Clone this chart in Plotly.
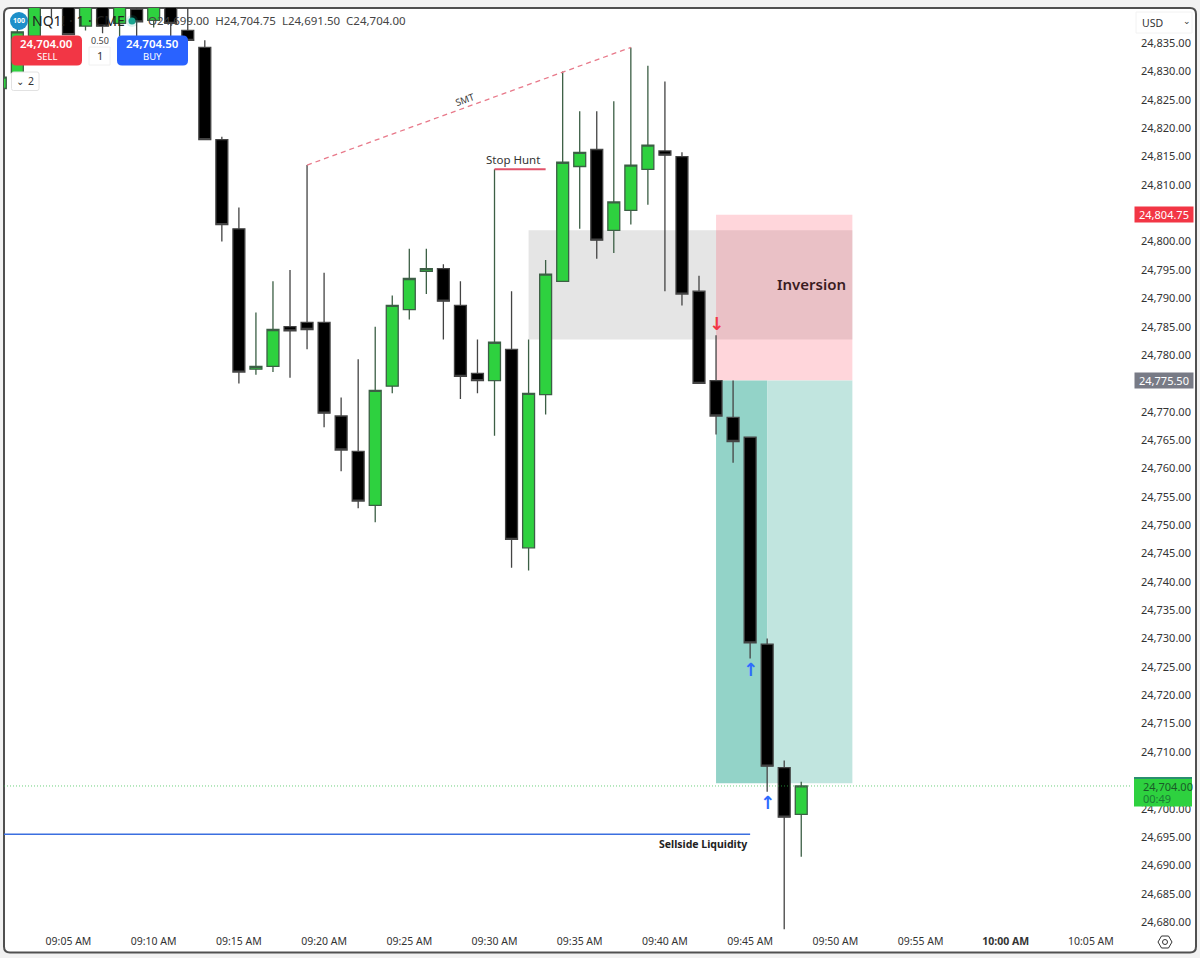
import plotly.graph_objects as go

DAY = "2025-07-21 "
times = ["09:01","09:02","09:03","09:04","09:05","09:06","09:07","09:08","09:09","09:10","09:11","09:12",
         "09:13","09:14","09:15","09:16","09:17","09:18","09:19","09:20","09:21","09:22","09:23","09:24",
         "09:25","09:26","09:27","09:28","09:29","09:30","09:31","09:32","09:33","09:34","09:35","09:36",
         "09:37","09:38","09:39","09:40","09:41","09:42","09:43","09:44","09:45","09:46","09:47","09:48"]
opens = [24827,24829.75,24836.25,24846,24850,24838,24848,24838.5,24841,24839,24846,24837.25,
         24834.25,24818,24802.25,24777.5,24778,24785,24785.75,24785.75,24769.25,24763,24753.5,24774.5,
         24788,24794.75,24795.25,24788.75,24776.75,24775.5,24781,24746,24773,24793,24813.25,24816.25,
         24802,24805.5,24812.75,24816,24815,24791.25,24775.5,24769,24765.5,24729,24707.25,24699]
highs = [24830,24839,24848,24848,24852,24848,24849,24847,24843,24848,24847,24842,
         24835.5,24818.5,24806,24787.5,24793,24795,24813.5,24794.5,24772.5,24779.25,24785,24790.5,
         24798.75,24798.75,24796,24793,24782.75,24812.75,24791.25,24782.75,24796.75,24830,24823,24823,
         24824.75,24834.25,24831,24828.25,24815.75,24794,24783.5,24775.5,24765.5,24730,24708.5,24704.75]
lows = [24826,24829.75,24836.25,24839.5,24836.5,24837.25,24836.75,24836.25,24836.25,24837.75,24836.25,24835.5,
        24818,24800,24775,24776.5,24777,24776,24781,24767.25,24759.5,24753,24750.5,24773.25,
        24786.25,24790.75,24782.75,24772.25,24773.25,24765.75,24742.5,24742,24769.5,24793,24802.25,24797,
        24798,24803,24806.5,24791.25,24788.75,24775,24766,24761,24726.5,24703,24678.75,24691.5]
closes = [24829,24837,24845,24844,24836.5,24846,24838,24846,24838.75,24846,24838.5,24835.5,
          24818,24803,24777,24778,24784.5,24784.25,24784.5,24769.75,24763.25,24754.25,24773.75,24788.75,
          24793.5,24795.25,24789.5,24776.25,24775.5,24782.25,24747.5,24773.25,24794.25,24814,24815.75,24800.25,
          24807,24813.5,24817,24815.25,24790.75,24775,24769.25,24764.75,24729.25,24707.5,24698.5,24704]

price_ticks = [24680,24685,24690,24695,24700,24710,24715,24720,24725,24730,24735,24740,24745,24750,24755,
               24760,24765,24770,24775,24780,24785,24790,24795,24800,24810,24815,24820,24825,24830,24835]
time_ticks = ["09:05","09:10","09:15","09:20","09:25","09:30","09:35","09:40","09:45","09:50","09:55","10:00","10:05"]
time_labels = ["09:05 AM","09:10 AM","09:15 AM","09:20 AM","09:25 AM","09:30 AM","09:35 AM","09:40 AM","09:45 AM",
               "09:50 AM","09:55 AM","<b>10:00 AM</b>","10:05 AM"]

last_price = 24704
sell_price = "24,704.00"
buy_price = "24,704.50"
red_label = 24804.75
grey_label = 24775.5
gray_zone = (24802, 24782.75)
pink_zone = (24804.75, 24775.5)
teal_zone = (24775.5, 24704.5)
liquidity = 24695.5

PLOT_L, PLOT_T, PLOT_R, PLOT_B = 4, 8, 1131, 930
W, H = 1200, 958
def X(px): return (px - PLOT_L) / (PLOT_R - PLOT_L)
def Y(py): return 1 - (py - PLOT_T) / (PLOT_B - PLOT_T)
def T(hm, sec="00"): return DAY + hm + ":" + sec

fig = go.Figure(go.Candlestick(
    x=[T(t) for t in times], open=opens, high=highs, low=lows, close=closes,
    increasing=dict(fillcolor="#2ed13f", line=dict(color="#3c5f45", width=1.3)),
    decreasing=dict(fillcolor="#000000", line=dict(color="#444444", width=1.3)),
    whiskerwidth=0, hoverinfo="skip", showlegend=False))

shapes = []
def paper_rect(x0, y0, x1, y1, fill, line=None, layer="above", lw=1, r=0):
    if r:
        path = (f"M {X(x0+r)} {Y(y0)} L {X(x1-r)} {Y(y0)} Q {X(x1)} {Y(y0)} {X(x1)} {Y(y0+r)} "
                f"L {X(x1)} {Y(y1-r)} Q {X(x1)} {Y(y1)} {X(x1-r)} {Y(y1)} "
                f"L {X(x0+r)} {Y(y1)} Q {X(x0)} {Y(y1)} {X(x0)} {Y(y1-r)} "
                f"L {X(x0)} {Y(y0+r)} Q {X(x0)} {Y(y0)} {X(x0+r)} {Y(y0)} Z")
        shapes.append(dict(type="path", path=path, xref="paper", yref="paper", fillcolor=fill, layer=layer,
                           line=dict(color=line or "rgba(0,0,0,0)", width=lw)))
    else:
        shapes.append(dict(type="rect", x0=X(x0), x1=X(x1), y0=Y(y0), y1=Y(y1), xref="paper", yref="paper",
                           fillcolor=fill, layer=layer, line=dict(color=line or "rgba(0,0,0,0)", width=lw)))

def data_rect(t0, t1, p0, p1, fill):
    shapes.append(dict(type="rect", x0=T(t0), x1=T(t1), y0=p0, y1=p1, xref="x", yref="y", fillcolor=fill,
                       layer="below", line=dict(width=0)))

def data_line(t0, p0, t1, p1, color, width, dash="solid"):
    shapes.append(dict(type="line", x0=t0, x1=t1, y0=p0, y1=p1, xref="x", yref="y",
                       line=dict(color=color, width=width, dash=dash), layer="above"))

# page frame
paper_rect(4, 8, 1196, 952.5, "#ffffff", "#505050", "below", 2, 6)

# zones
data_rect("09:32", "09:51", gray_zone[0], gray_zone[1], "#e5e5e5")
data_rect("09:43", "09:51", pink_zone[0], pink_zone[1], "rgba(255,70,90,0.22)")
data_rect("09:43", "09:46", teal_zone[0], teal_zone[1], "#93d3c8")
data_rect("09:46", "09:51", teal_zone[0], teal_zone[1], "#c1e5df")

# drawn lines
data_line(T("09:19"), highs[18], T("09:38"), highs[37], "#e8798a", 1.3, "5px,4px")
data_line(T("09:30"), highs[29], T("09:33"), highs[29], "#e0526a", 2)
data_line(T("09:01", "13"), liquidity, T("09:45"), liquidity, "#3b6fe0", 1.5)
data_line(T("09:01", "13"), last_price, T("10:07", "30"), last_price, "rgba(46,190,70,0.7)", 1, "1px,2px")

# order widgets
paper_rect(11.5, 35.5, 82, 65.5, "#f23645", r=5)
paper_rect(117, 35.5, 188, 65.5, "#2962ff", r=5)
paper_rect(89, 47, 110, 65, "#ffffff", "#f0f0f0")
paper_rect(11.5, 72, 39, 90.5, "#ffffff", "#e2e2e2", r=2)
paper_rect(1136, 12, 1192, 33, "#ffffff", "#f2f2f2")
# logo + status dot
shapes.append(dict(type="circle", x0=X(10), x1=X(28), y0=Y(12), y1=Y(30), xref="paper", yref="paper",
                   fillcolor="#1d8fc9", line=dict(width=0)))
shapes.append(dict(type="circle", x0=X(126), x1=X(138), y0=Y(15), y1=Y(27), xref="paper", yref="paper",
                   fillcolor="rgba(30,170,150,0.15)", line=dict(width=0)))
shapes.append(dict(type="circle", x0=X(128.5), x1=X(135.5), y0=Y(17.5), y1=Y(24.5), xref="paper", yref="paper",
                   fillcolor="#1aa38f", line=dict(width=0)))
# settings icon
hx, hy = 1165, 942
hexagon = [(-7,0),(-3.5,-6),(3.5,-6),(7,0),(3.5,6),(-3.5,6)]
path = "M " + " L ".join(f"{X(hx+a)} {Y(hy+b)}" for a, b in hexagon) + " Z"
shapes.append(dict(type="path", path=path, xref="paper", yref="paper", line=dict(color="#333333", width=1)))
shapes.append(dict(type="circle", x0=X(hx-2.5), x1=X(hx+2.5), y0=Y(hy-2.5), y1=Y(hy+2.5), xref="paper", yref="paper",
                   line=dict(color="#333333", width=1)))
# last-price flag
paper_rect(1134, 777, 1192, 806.5, "#2ed13f")
paper_rect(1134, 777, 1192, 779, "#2a8f6f")

FONT = "Noto Sans"
ann = []
def label(px, py, text, size=11, color="#333333", anchor="center", weight=None, family=FONT, angle=0):
    ann.append(dict(x=X(px), y=Y(py), xref="paper", yref="paper", text=text, showarrow=False, xanchor=anchor,
                    yanchor="middle", textangle=angle,
                    font=dict(size=size, color=color, family=family, weight=weight or 400)))

label(18.5, 21, "100", 7, "#ffffff", weight=700)
label(30, 21, "NQ1! · 1 · CME", 14, "#222222", "left")
label(146, 21, "O24,699.00&nbsp; H24,704.75&nbsp; L24,691.50&nbsp; C24,704.00", 11.5, "#444444", "left")
label(46.5, 44, sell_price, 11.5, "#ffffff", weight=600)
label(46.5, 56.5, "SELL", 9.5, "#ffffff")
label(152.5, 44, buy_price, 11.5, "#ffffff", weight=600)
label(152.5, 56.5, "BUY", 9.5, "#ffffff")
label(99.5, 40, "0.50", 9, "#444444")
label(99.5, 56, "1", 11, "#333333")
label(20, 81, "⌄", 10, "#333333")
label(31, 81, "2", 10.5, "#333333")
label(1140, 22.5, "USD", 10.5, "#333333", "left")
label(1186.5, 21, "⌄", 9, "#333333")
label(465, 99, "SMT", 9.5, "#333333", angle=-20)
label(513, 160, "Stop Hunt", 11.5, "#333333")
label(702.5, 844, "Sellside Liquidity", 10.5, "#222222", weight=700)
label(811.5, 284, "Inversion", 15, "#3a1c22", weight=600)
label(1141, 786, "24,704.00", 11, "#1a5a28", "left")
label(1141, 798, "00:49", 11, "#1a7a35", "left")

# arrows and price flags tied to the price scale
def arrow(t, price, ch, color):
    ann.append(dict(x=T(t), y=price, xref="x", yref="y", text=ch, showarrow=False,
                    font=dict(size=18, color=color, family="DejaVu Sans", weight=700)))
arrow("09:43", 24785.5, "↓", "#f23645")
arrow("09:45", 24724.5, "↑", "#2f6bff")
arrow("09:46", 24701, "↑", "#2f6bff")

def flag(price, text, bg, color, h):
    ann.append(dict(x=X(1134), y=price, xref="paper", yref="y", text=text, showarrow=False, xanchor="left",
                    yanchor="middle", bgcolor=bg, width=58, height=h, borderpad=0, align="center",
                    font=dict(size=11, color=color, family=FONT)))
flag(red_label, "24,804.75", "#f23645", "#ffffff", 15)
flag(grey_label, "24,775.50", "#787b86", "#ffffff", 15)

fig.update_layout(
    width=W, height=H, margin=dict(l=PLOT_L, r=W - PLOT_R, t=PLOT_T, b=H - PLOT_B, autoexpand=False),
    paper_bgcolor="#f2f2f2", plot_bgcolor="rgba(0,0,0,0)", shapes=shapes, annotations=ann,
    showlegend=False, boxgap=0.3, boxgroupgap=0, hovermode=False,
    font=dict(family=FONT, size=11, color="#333333"),
    xaxis=dict(type="date", range=[T("09:01", "13"), T("10:07", "21")], rangeslider=dict(visible=False),
               tickmode="array", tickvals=[T(t) for t in time_ticks], ticktext=time_labels,
               showgrid=False, zeroline=False, showline=False, ticks="", ticklabelstandoff=3,
               tickfont=dict(size=10.5, color="#333333")),
    yaxis=dict(side="right", range=[24678.6, 24841.2], tickmode="array", tickvals=price_ticks,
               ticktext=[f"{p:,.2f}" for p in price_ticks], showgrid=False, zeroline=False, showline=False,
               ticks="", ticklabelstandoff=9, tickfont=dict(size=11, color="#333333")),
)
fig.write_html("out.html", config={"displayModeBar": False},
               post_script="document.body.style.margin='0';document.body.style.overflow='hidden';")
